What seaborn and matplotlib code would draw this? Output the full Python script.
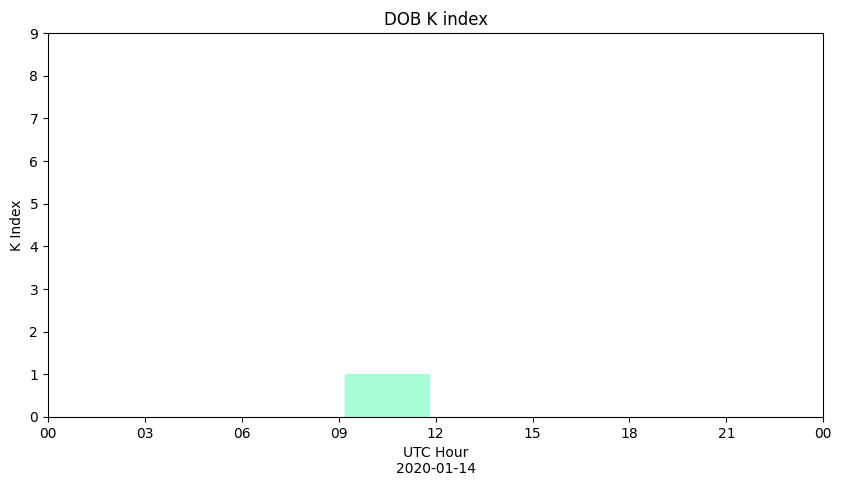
import matplotlib
matplotlib.use("Agg")
import matplotlib.pyplot as plt
import seaborn as sns
import pandas as pd

# Data: 3-hour K index intervals (centre hour of each interval)
hours = [1.5, 4.5, 7.5, 10.5, 13.5, 16.5, 19.5, 22.5]
k_index = [0, 0, 0, 1, 0, 0, 0, 0]
tick_hours = [0, 3, 6, 9, 12, 15, 18, 21, 24]
tick_labels = ["00", "03", "06", "09", "12", "15", "18", "21", "00"]
title = "DOB K index"
date_label = "2020-01-14"

df = pd.DataFrame({"hour": hours, "k": k_index})

fig, ax = plt.subplots(figsize=(8.41, 4.86), dpi=100)
fig.subplots_adjust(left=0.057, right=0.979, top=0.932, bottom=0.142)

sns.barplot(data=df, x="hour", y="k", native_scale=True, width=0.88,
            color="#a6ffd4", saturation=1, linewidth=0, errorbar=None, ax=ax)

ax.set_xlim(0, 24)
ax.set_ylim(0, 9)
ax.set_xticks(tick_hours)
ax.set_xticklabels(tick_labels)
ax.set_yticks(range(0, 10))
ax.set_xlabel("UTC Hour\n" + date_label)
ax.set_ylabel("K Index")
ax.set_title(title)

fig.savefig("out.png", dpi=100)
